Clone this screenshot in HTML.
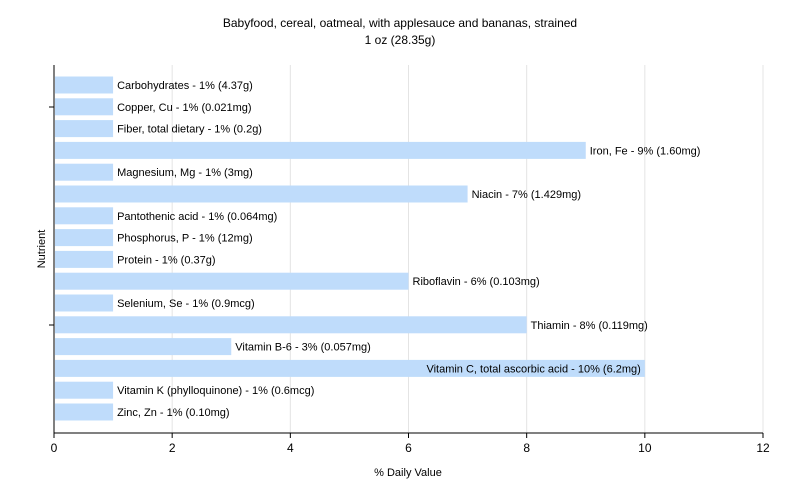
<!DOCTYPE html>
<html>
<head>
<meta charset="utf-8">
<style>
  html,body{margin:0;padding:0;background:#fff;}
  svg{display:block;font-family:"Liberation Sans",sans-serif;}
</style>
</head>
<body>
<svg id="chart" width="800" height="500" viewBox="0 0 800 500">
  <text x="400" y="27" text-anchor="middle" font-size="12" fill="#000">Babyfood, cereal, oatmeal, with applesauce and bananas, strained</text>
  <text x="400" y="44" text-anchor="middle" font-size="12" fill="#000">1 oz (28.35g)</text>
  <g id="grid"></g>
  <g id="bars"></g>
  <g id="axes"></g>
  <text x="408" y="476" text-anchor="middle" font-size="11" fill="#000">% Daily Value</text>
  <text x="45" y="249" text-anchor="middle" font-size="11" fill="#000" transform="rotate(-90 45 249)">Nutrient</text>
</svg>
<script>
const categories = ["Carbohydrates","Copper, Cu","Fiber, total dietary","Iron, Fe","Magnesium, Mg","Niacin","Pantothenic acid","Phosphorus, P","Protein","Riboflavin","Selenium, Se","Thiamin","Vitamin B-6","Vitamin C, total ascorbic acid","Vitamin K (phylloquinone)","Zinc, Zn"];
const values = [1,1,1,9,1,7,1,1,1,6,1,8,3,10,1,1];
const amounts = ["4.37g","0.021mg","0.2g","1.60mg","3mg","1.429mg","0.064mg","12mg","0.37g","0.103mg","0.9mcg","0.119mg","0.057mg","6.2mg","0.6mcg","0.10mg"];
const xTicks = [0,2,4,6,8,10,12];

const NS = "http://www.w3.org/2000/svg";
const x0 = 54, x1 = 763, xMax = 12;
const plotTop = 65, plotBottom = 433;
const firstCenter = 85, step = 21.8, barH = 17;
function xScale(v){ return x0 + (v / xMax) * (x1 - x0); }
function yScale(i){ return firstCenter + i * step; }
function mk(tag, attrs, parent){ const e = document.createElementNS(NS, tag); for (const k in attrs) e.setAttribute(k, attrs[k]); parent.appendChild(e); return e; }

const grid = document.getElementById('grid');
const bars = document.getElementById('bars');
const axes = document.getElementById('axes');

xTicks.forEach(t => {
  if (t === 0) return;
  const g = mk('line', {x1: xScale(t), x2: xScale(t), y1: plotTop, y2: plotBottom, stroke: '#e4e4e4', 'stroke-width': 1}, grid);
  
  
});

categories.forEach((c, i) => {
  const y = yScale(i);
  const r = mk('rect', {x: x0 + 1, y: y - barH / 2, width: xScale(values[i]) - x0 - 1, height: barH, fill: '#bfdcfb'}, bars);
  
  
  const label = c + ' - ' + values[i] + '% (' + amounts[i] + ')';
  const inside = values[i] >= 10;
  const t = mk('text', {x: inside ? xScale(values[i]) - 4 : xScale(values[i]) + 4, y: y + 4, 'font-size': 11, fill: '#000', 'text-anchor': inside ? 'end' : 'start'}, bars);
  t.textContent = label;
  
  
});

const ya = mk('line', {x1: x0, x2: x0, y1: plotTop, y2: plotBottom, stroke: '#000', 'stroke-width': 1}, axes);


const xa = mk('line', {x1: x0, x2: x1, y1: plotBottom, y2: plotBottom, stroke: '#000', 'stroke-width': 1}, axes);


[107, 325].forEach(yy => {
  const tk = mk('line', {x1: x0 - 5, x2: x0, y1: yy, y2: yy, stroke: '#000'}, axes);
  
  
});
xTicks.forEach(t => {
  const tk = mk('line', {x1: xScale(t), x2: xScale(t), y1: plotBottom, y2: plotBottom + 5, stroke: '#000'}, axes);
  
  
  const lb = mk('text', {x: xScale(t), y: plotBottom + 19, 'text-anchor': 'middle', 'font-size': 12, fill: '#000'}, axes);
  lb.textContent = t;
  
  
});
</script>
</body>
</html>
